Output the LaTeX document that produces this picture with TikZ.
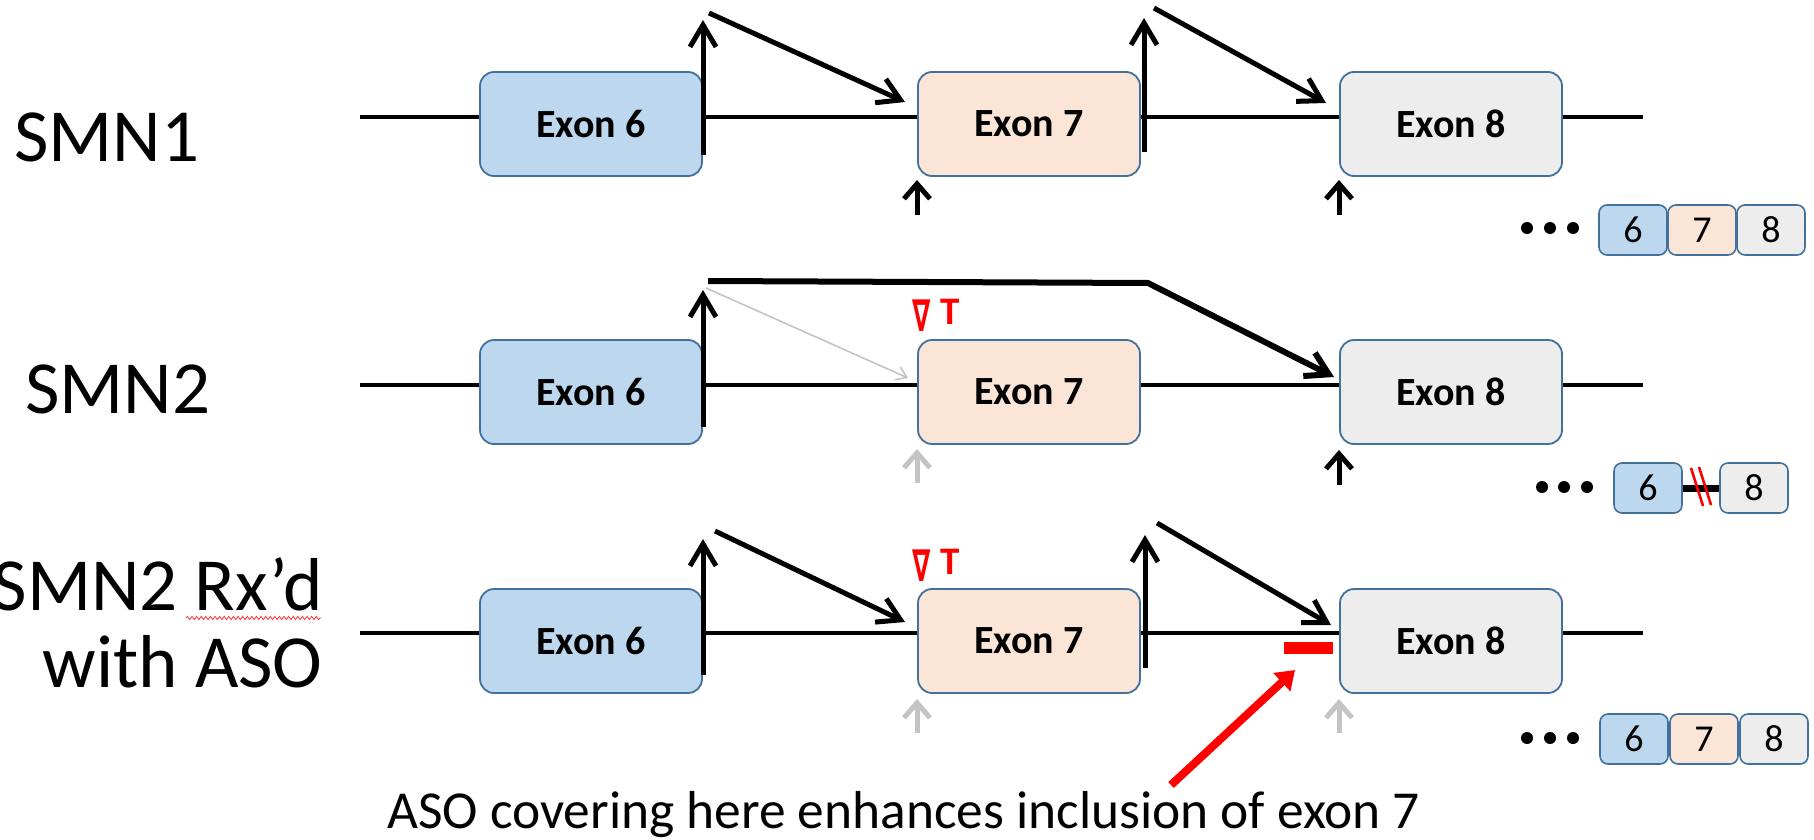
\documentclass[tikz,border=0pt]{standalone}
\usepackage{fontspec}
\setmainfont{Carlito}
\newfontfamily\dejavu{DejaVu Sans}
\usetikzlibrary{arrows.meta,decorations.pathmorphing}
\definecolor{esix}{HTML}{BDD7EE}
\definecolor{eseven}{HTML}{FBE5D6}
\definecolor{eeight}{HTML}{EDEDED}
\definecolor{bord}{HTML}{41719C}
\definecolor{lgray}{HTML}{C4C4C4}
\begin{document}
\begin{tikzpicture}[x=0.5pt,y=-0.5pt,
  exon/.style={draw=bord, line width=0.9pt, rounded corners=7pt, minimum width=111pt, minimum height=52pt, inner sep=0pt, font=\fontsize{20}{22}\selectfont\bfseries},
  mini/.style={draw=bord, line width=0.8pt, rounded corners=4pt, minimum width=34pt, minimum height=25pt, inner sep=0pt, font=\fontsize{19}{20}\selectfont},
  intron/.style={line width=2.2pt},
  splice/.style={line width=2.5pt, -{Straight Barb[length=11pt,width=13pt]}},
  site/.style={line width=2.5pt, -{Straight Barb[length=7.5pt,width=13pt]}},
  label/.style={inner sep=0pt, font=\fontsize{37.5}{40}\selectfont},
  redtext/.style={text=red, inner sep=0pt},
  dot/.style={circle, fill=black, inner sep=0pt, minimum size=6pt}
]
\useasboundingbox (0,0) rectangle (1814,840);

% ---------- labels ----------
\node[label, anchor=base west] (l1) at (14,162) {SMN1};
\node[label, anchor=base west] (l2) at (25,413) {SMN2};
\node[label, anchor=base east] (l3a) at (323,610) {SMN2 Rx’d};
\node[label, anchor=base east] (l3b) at (323,687) {with ASO};
\coordinate (sq0) at (186,618); \coordinate (sq1) at (321,618);
\draw[red!80!white, line width=0.4pt, decorate, decoration={snake, amplitude=0.8pt, segment length=2.3pt}] (sq0) -- (sq1);

% ---------- row 1 ----------
\coordinate (r1s) at (360,117); \coordinate (r1e) at (1643,117);
\draw[intron] (r1s) -- (r1e);
\node[exon, fill=esix] (a6) at (591,124) {Exon 6};
\node[exon, fill=eseven] (a7) at (1029,124) {Exon 7};
\node[exon, fill=eeight] (a8) at (1451,124) {Exon 8};
\coordinate (v1a0) at (703,155); \coordinate (v1a1) at (703,20);
\coordinate (d1a0) at (709,13); \coordinate (d1a1) at (905,102);
\coordinate (v1b0) at (1144,152); \coordinate (v1b1) at (1144,18);
\coordinate (d1b0) at (1154,8); \coordinate (d1b1) at (1326,103);
\draw[splice] (v1a0) -- (v1a1);
\draw[splice] (d1a0) -- (d1a1);
\draw[splice] (v1b0) -- (v1b1);
\draw[splice] (d1b0) -- (d1b1);
\coordinate (s1a0) at (917,215); \coordinate (s1a1) at (917,180);
\coordinate (s1b0) at (1339,215); \coordinate (s1b1) at (1339,180);
\draw[site] (s1a0) -- (s1a1);
\draw[site] (s1b0) -- (s1b1);

% ---------- row 2 ----------
\coordinate (r2s) at (360,385); \coordinate (r2e) at (1643,385);
\draw[intron] (r2s) -- (r2e);
\node[exon, fill=esix] (b6) at (591,392) {Exon 6};
\node[exon, fill=eseven] (b7) at (1029,392) {Exon 7};
\node[exon, fill=eeight] (b8) at (1451,392) {Exon 8};
\coordinate (v2a0) at (703,427); \coordinate (v2a1) at (703,290);
\draw[splice] (v2a0) -- (v2a1);
\coordinate (h2a) at (708,281); \coordinate (h2b) at (1148,283); \coordinate (h2c) at (1334,377);
\draw[line width=3pt, -{Straight Barb[length=11pt,width=13pt]}] (h2a) -- (h2b) -- (h2c);
\coordinate (g2a) at (706,288); \coordinate (g2b) at (908,378);
\draw[lgray, line width=0.8pt, -{Straight Barb[length=5pt,width=7pt]}] (g2a) -- (g2b);
\node[redtext, font=\dejavu\bfseries\fontsize{22}{24}\selectfont, xscale=0.6] (n2) at (922,316) {∇};
\node[redtext, font=\bfseries\fontsize{19.5}{21}\selectfont] (t2) at (950,312) {T};
\coordinate (s2a0) at (917,483); \coordinate (s2a1) at (917,449);
\coordinate (s2b0) at (1339,485); \coordinate (s2b1) at (1339,450);
\draw[site, lgray] (s2a0) -- (s2a1);
\draw[site] (s2b0) -- (s2b1);

% ---------- row 3 ----------
\coordinate (r3s) at (360,633); \coordinate (r3e) at (1643,633);
\draw[intron] (r3s) -- (r3e);
\node[exon, fill=esix] (c6) at (591,641) {Exon 6};
\node[exon, fill=eseven] (c7) at (1029,641) {Exon 7};
\node[exon, fill=eeight] (c8) at (1451,641) {Exon 8};
\coordinate (v3a0) at (703,675); \coordinate (v3a1) at (703,539);
\coordinate (d3a0) at (715,531); \coordinate (d3a1) at (905,622);
\coordinate (v3b0) at (1145,668); \coordinate (v3b1) at (1145,535);
\coordinate (d3b0) at (1157,523); \coordinate (d3b1) at (1331,625);
\draw[splice] (v3a0) -- (v3a1);
\draw[splice] (d3a0) -- (d3a1);
\draw[splice] (v3b0) -- (v3b1);
\draw[splice] (d3b0) -- (d3b1);
\node[redtext, font=\dejavu\bfseries\fontsize{22}{24}\selectfont, xscale=0.6] (n3) at (922,566) {∇};
\node[redtext, font=\bfseries\fontsize{19.5}{21}\selectfont] (t3) at (950,562) {T};
\node[fill=red, minimum width=24.5pt, minimum height=6pt, inner sep=0pt] (aso) at (1308.5,648) {};
\coordinate (ra0) at (1171,785); \coordinate (ra1) at (1295,670);
\draw[red, line width=4pt, -{Triangle[length=9pt,width=12pt]}] (ra0) -- (ra1);
\coordinate (s3a0) at (917,733); \coordinate (s3a1) at (917,699);
\coordinate (s3b0) at (1339,733); \coordinate (s3b1) at (1339,699);
\draw[site, lgray] (s3a0) -- (s3a1);
\draw[site, lgray] (s3b0) -- (s3b1);

% ---------- bottom note ----------
\node[inner sep=0pt, anchor=base west, font=\fontsize{26.7}{28}\selectfont] (note) at (387,828) {ASO covering here enhances inclusion of exon 7};

% ---------- mRNA products ----------
\node[dot] (p1a) at (1527,228) {}; \node[dot] (p1b) at (1550,228) {}; \node[dot] (p1c) at (1573,228) {};
\node[mini, fill=esix] (m16) at (1633,230) {6};
\node[mini, fill=eseven] (m17) at (1702,230) {7};
\node[mini, fill=eeight] (m18) at (1771,230) {8};

\node[dot] (p2a) at (1542,487) {}; \node[dot] (p2b) at (1564,487) {}; \node[dot] (p2c) at (1587,487) {};
\node[mini, fill=esix] (m26) at (1648,488) {6};
\node[mini, fill=eeight] (m28) at (1754,488) {8};
\draw[line width=3.5pt] (m26.east) -- (m28.west);
\coordinate (x1a) at (1691,468); \coordinate (x1b) at (1703,506);
\coordinate (x2a) at (1699,467); \coordinate (x2b) at (1711,505);
\draw[red, line width=1.3pt] (x1a) -- (x1b);
\draw[red, line width=1.3pt] (x2a) -- (x2b);

\node[dot] (p3a) at (1527,738) {}; \node[dot] (p3b) at (1550,738) {}; \node[dot] (p3c) at (1573,738) {};
\node[mini, fill=esix] (m36) at (1634,739) {6};
\node[mini, fill=eseven] (m37) at (1704,739) {7};
\node[mini, fill=eeight] (m38) at (1774,739) {8};
\end{tikzpicture}
\end{document}
